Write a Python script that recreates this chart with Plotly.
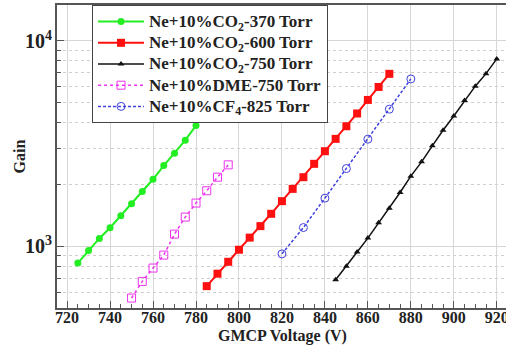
import plotly.graph_objects as go

# Data
v_co2_370 = [725, 730, 735, 740, 745, 750, 755, 760, 765, 770, 775, 780]
g_co2_370 = [830, 957, 1094, 1233, 1409, 1613, 1851, 2123, 2476, 2845, 3289, 3873]

v_co2_600 = [785, 790, 795, 800, 805, 810, 815, 820, 825, 830, 835, 840, 845, 850, 855, 860, 865, 870]
g_co2_600 = [641, 737, 842, 964, 1104, 1256, 1442, 1661, 1906, 2173, 2524, 2907, 3338, 3846, 4437, 5165, 5973, 6918]

v_co2_750 = [845, 850, 855, 860, 865, 870, 875, 880, 885, 890, 895, 900, 905, 910, 915, 920]
g_co2_750 = [689, 800, 939, 1098, 1303, 1535, 1830, 2198, 2580, 3087, 3678, 4314, 5129, 6026, 6935, 8177]

v_dme_750 = [750, 755, 760, 765, 770, 775, 780, 785, 790, 795]
g_dme_750 = [561, 676, 785, 908, 1148, 1390, 1626, 1866, 2173, 2495]

v_cf4_825 = [820, 830, 840, 850, 860, 870, 880]
g_cf4_825 = [920, 1236, 1718, 2394, 3327, 4656, 6534]

names = ["Ne+10%CO<sub>2</sub>-370 Torr", "Ne+10%CO<sub>2</sub>-600 Torr",
         "Ne+10%CO<sub>2</sub>-750 Torr", "Ne+10%DME-750 Torr",
         "Ne+10%CF<sub>4</sub>-825 Torr"]
x_title = "GMCP Voltage (V)"
y_title = "Gain"

FONT = "Liberation Serif"
TXT = "#222222"


def big(s):
    return "<span style='font-size:17px'>" + s + "</span>"


fig = go.Figure()
fig.add_trace(go.Scatter(x=v_co2_370, y=g_co2_370, name=big(names[0]), mode="lines+markers",
                         line=dict(color="#22ee22", width=2),
                         marker=dict(symbol="circle", size=7, color="#22ee22")))
fig.add_trace(go.Scatter(x=v_co2_600, y=g_co2_600, name=big(names[1]), mode="lines+markers",
                         line=dict(color="#ff1010", width=2),
                         marker=dict(symbol="square", size=8, color="#ff1010")))
fig.add_trace(go.Scatter(x=v_co2_750, y=g_co2_750, name=big(names[2]), mode="lines+markers",
                         line=dict(color="#111111", width=1.5),
                         marker=dict(symbol="triangle-up", size=6, color="#111111")))
fig.add_trace(go.Scatter(x=v_dme_750, y=g_dme_750, name=big(names[3]), mode="lines+markers",
                         line=dict(color="#ee33ee", width=1.5, dash="dot"),
                         marker=dict(symbol="square-open", size=8, color="#ee33ee")))
fig.add_trace(go.Scatter(x=v_cf4_825, y=g_cf4_825, name=big(names[4]), mode="lines+markers",
                         line=dict(color="#4040dd", width=1.5, dash="3px,2px"),
                         marker=dict(symbol="circle-open", size=8, color="#4040dd")))

axis_common = dict(
    showline=True, linecolor="#555555", linewidth=1.5, mirror=True,
    ticks="inside", tickcolor="#555555", ticklen=7,
    tickfont=dict(family=FONT, size=16, color=TXT, weight="bold"),
    gridcolor="#d6d6d6", gridwidth=1,
    zeroline=False, ticklabeloverflow="allow",
)

fig.update_xaxes(
    range=[715.3, 924.3], dtick=20, tick0=720,
    minor=dict(dtick=5, ticks="inside", ticklen=4, tickcolor="#555555", showgrid=False),
    ticklabelstandoff=-6,
    **axis_common,
)
fig.update_yaxes(
    type="log", range=[2.7005, 4.175], dtick=1, exponentformat="power",
    minor=dict(dtick="D1", ticks="inside", ticklen=4, tickcolor="#555555",
               showgrid=True, gridcolor="#cfcfcf", griddash="dot"),
    **axis_common,
)

# plot area: x 57..506, y 5..308 (303 px tall, 449 px wide)
fig.add_annotation(text=x_title, xref="paper", yref="paper", x=0.503, y=-28 / 303,
                   xanchor="center", yanchor="middle", showarrow=False,
                   font=dict(family=FONT, size=16, color=TXT, weight="bold"))
fig.add_annotation(text=y_title, xref="paper", yref="paper", x=-38 / 449, y=0.5,
                   xanchor="center", yanchor="middle", showarrow=False, textangle=-90,
                   font=dict(family=FONT, size=16, color=TXT, weight="bold"))

fig.update_layout(
    width=506, height=346,
    margin=dict(l=57, r=0, t=5, b=38, autoexpand=False),
    paper_bgcolor="white", plot_bgcolor="white",
    font=dict(family=FONT, size=15, color=TXT),
    legend=dict(
        x=0.078, y=1.0, xanchor="left", yanchor="top",
        bgcolor="white", bordercolor="#444444", borderwidth=1,
        font=dict(family=FONT, size=14, color=TXT, weight="bold"),
        tracegroupgap=0, itemwidth=46,
    ),
    showlegend=True,
)

fig.write_html("out.html", config={"displayModeBar": False},
               post_script="document.body.style.margin='0px';")
